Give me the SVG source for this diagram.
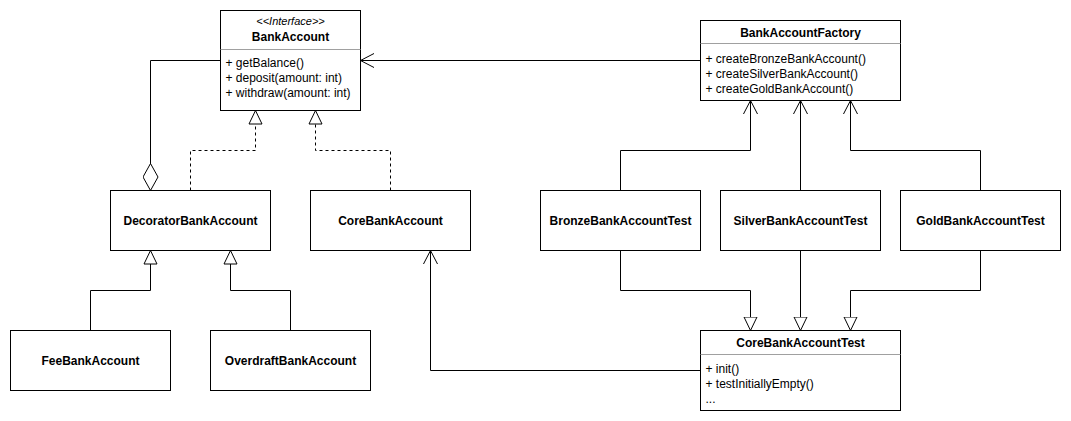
<svg xmlns="http://www.w3.org/2000/svg" width="1071" height="421" viewBox="0 0 1071 421">
  <style>
    .box { fill: #ffffff; stroke: #000000; stroke-width: 1; }
    .div { stroke: #a0a0a0; stroke-width: 1; }
    .title { font-family: "Liberation Sans", Arial, sans-serif; font-size: 12px; font-weight: bold; text-anchor: middle; fill: #000; }
    .stereo { font-family: "Liberation Sans", Arial, sans-serif; font-size: 11px; font-style: italic; text-anchor: middle; fill: #000; }
    .member { font-family: "Liberation Sans", Arial, sans-serif; font-size: 12px; fill: #000; }
    .edge { fill: none; stroke: #000000; stroke-width: 1; }
    .dashed { stroke-dasharray: 3 3; }
  </style>
  <defs>
    <marker id="tri" viewBox="0 0 15 15" refX="14" refY="7.5" markerWidth="15" markerHeight="15" orient="auto" markerUnits="userSpaceOnUse">
      <path d="M0.5,1 L14,7.5 L0.5,14 Z" fill="#ffffff" stroke="#000000" stroke-width="1" stroke-dasharray="none"/>
    </marker>
    <marker id="open" viewBox="0 0 15 15" refX="14" refY="7.5" markerWidth="15" markerHeight="15" orient="auto" markerUnits="userSpaceOnUse">
      <path d="M0.5,0.5 L14,7.5 L0.5,14.5" fill="none" stroke="#000000" stroke-width="1"/>
    </marker>
    <marker id="diamond" viewBox="0 0 28 16" refX="0.5" refY="8" markerWidth="28" markerHeight="16" orient="auto" markerUnits="userSpaceOnUse">
      <path d="M0.5,8 L14,0.5 L27.5,8 L14,15.5 Z" fill="#ffffff" stroke="#000000" stroke-width="1"/>
    </marker>
  </defs>

  <g transform="translate(0.5,0.5)">
    <!-- connectors -->
    <g id="connectors">
      <path class="edge" d="M700,60 H360" marker-end="url(#open)"/>
      <path class="edge" d="M150,190 V60 H220" marker-start="url(#diamond)"/>
      <path class="edge dashed" d="M190,190 V150 H255 V110" marker-end="url(#tri)"/>
      <path class="edge dashed" d="M390,190 V150 H315 V110" marker-end="url(#tri)"/>
      <path class="edge" d="M90,330 V290 H150 V250" marker-end="url(#tri)"/>
      <path class="edge" d="M290,330 V290 H230 V250" marker-end="url(#tri)"/>
      <path class="edge" d="M620,190 V150 H750 V100" marker-end="url(#open)"/>
      <path class="edge" d="M800,190 V100" marker-end="url(#open)"/>
      <path class="edge" d="M980,190 V150 H850 V100" marker-end="url(#open)"/>
      <path class="edge" d="M620,250 V290 H750 V330" marker-end="url(#tri)"/>
      <path class="edge" d="M800,250 V330" marker-end="url(#tri)"/>
      <path class="edge" d="M980,250 V290 H850 V330" marker-end="url(#tri)"/>
      <path class="edge" d="M700,370 H430 V250" marker-end="url(#open)"/>
    </g>

    <!-- interface -->
    <g id="BankAccount">
      <rect class="box" x="220" y="10" width="140" height="100"/>
      <line class="div" x1="220" y1="49" x2="360" y2="49"/>
      <text class="stereo" x="290" y="24">&lt;&lt;Interface&gt;&gt;</text>
      <text class="title" x="290" y="40">BankAccount</text>
      <text class="member" x="225" y="66">+ getBalance()</text>
      <text class="member" x="225" y="81">+ deposit(amount: int)</text>
      <text class="member" x="225" y="96">+ withdraw(amount: int)</text>
    </g>

    <g id="DecoratorBankAccount">
      <rect class="box" x="110" y="190" width="160" height="60"/>
      <text class="title" x="190" y="224">DecoratorBankAccount</text>
    </g>

    <g id="CoreBankAccount">
      <rect class="box" x="310" y="190" width="160" height="60"/>
      <text class="title" x="390" y="224">CoreBankAccount</text>
    </g>

    <g id="FeeBankAccount">
      <rect class="box" x="10" y="330" width="160" height="60"/>
      <text class="title" x="90" y="364">FeeBankAccount</text>
    </g>

    <g id="OverdraftBankAccount">
      <rect class="box" x="210" y="330" width="160" height="60"/>
      <text class="title" x="290" y="364">OverdraftBankAccount</text>
    </g>

    <!-- factory -->
    <g id="BankAccountFactory">
      <rect class="box" x="700" y="20" width="200" height="80"/>
      <line class="div" x1="700" y1="43" x2="900" y2="43"/>
      <text class="title" x="800" y="36">BankAccountFactory</text>
      <text class="member" x="705" y="62">+ createBronzeBankAccount()</text>
      <text class="member" x="705" y="77">+ createSilverBankAccount()</text>
      <text class="member" x="705" y="92">+ createGoldBankAccount()</text>
    </g>

    <!-- tests -->
    <g id="BronzeBankAccountTest">
      <rect class="box" x="540" y="190" width="160" height="60"/>
      <text class="title" x="620" y="224">BronzeBankAccountTest</text>
    </g>

    <g id="SilverBankAccountTest">
      <rect class="box" x="720" y="190" width="160" height="60"/>
      <text class="title" x="800" y="224">SilverBankAccountTest</text>
    </g>

    <g id="GoldBankAccountTest">
      <rect class="box" x="900" y="190" width="160" height="60"/>
      <text class="title" x="980" y="224">GoldBankAccountTest</text>
    </g>

    <g id="CoreBankAccountTest">
      <rect class="box" x="700" y="330" width="200" height="80"/>
      <line class="div" x1="700" y1="354" x2="900" y2="354"/>
      <text class="title" x="800" y="346">CoreBankAccountTest</text>
      <text class="member" x="705" y="372">+ init()</text>
      <text class="member" x="705" y="387">+ testInitiallyEmpty()</text>
      <text class="member" x="705" y="402">...</text>
    </g>
  </g>
</svg>
